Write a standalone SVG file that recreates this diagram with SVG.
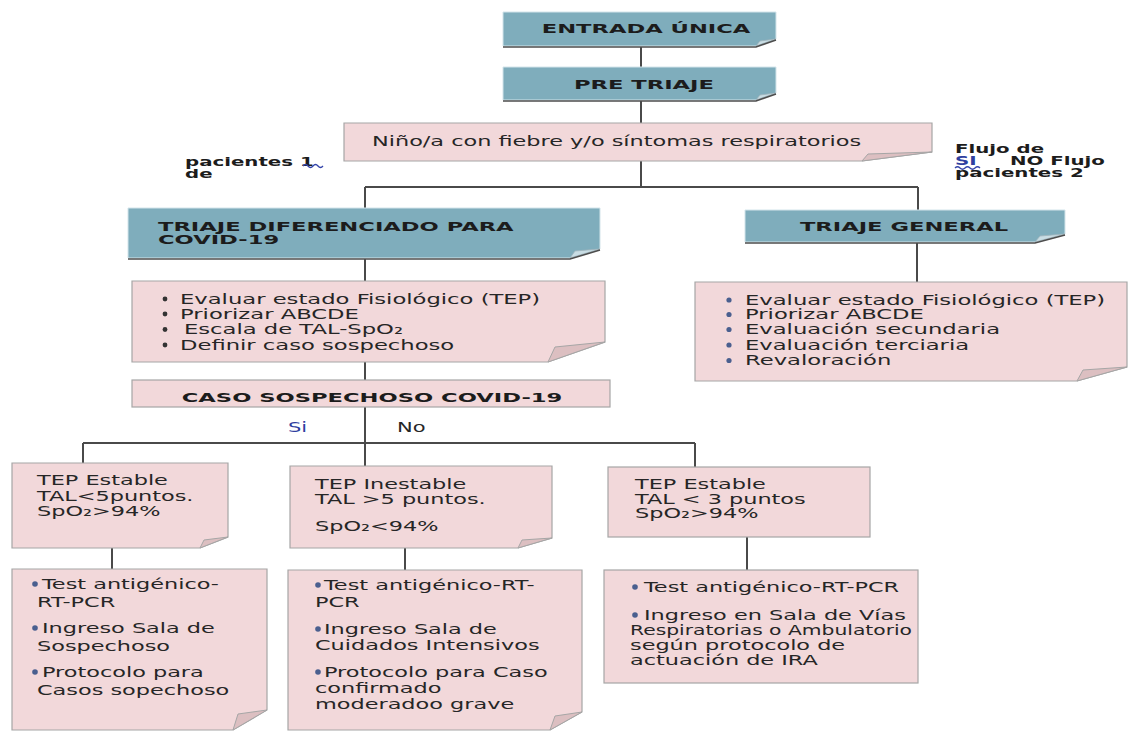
<svg xmlns="http://www.w3.org/2000/svg" width="1128" height="731" viewBox="0 0 1128 731">
<style>
.teal{fill:#7fadbc;stroke:#d3e4ea;stroke-width:1}
.flapT{fill:#c9dde4;stroke:#9fb4bb;stroke-width:0.8}
.shadow{fill:none;stroke:#4d4d4d;stroke-width:1.6}
.pink{fill:#f2d8da;stroke:#a6a6a6;stroke-width:1.2}
.flapP{fill:#dcbfc1;stroke:#a6a6a6;stroke-width:1}
.conn{fill:none;stroke:#4a4a4a;stroke-width:2}
.h{font-family:"DejaVu Sans","Liberation Sans",sans-serif;font-weight:bold;font-size:13px;fill:#1c1c1c}
.lb{font-family:"DejaVu Sans","Liberation Sans",sans-serif;font-weight:bold;font-size:11.5px;fill:#1c1c1c}
.t{font-family:"DejaVu Sans","Liberation Sans",sans-serif;font-size:14px;fill:#262626}
.blue{fill:#2f3f9f}
.bul{fill:#4a5f8f}
.bulD{fill:#333}
.sq{fill:none;stroke:#3344aa;stroke-width:1.3}
</style>

<g id="connectors">
<path class="conn" d="M641,47 V67"/>
<path class="conn" d="M641,101 V123"/>
<path class="conn" d="M641,161 V187"/>
<path class="conn" d="M365,187 H918"/>
<path class="conn" d="M365,187 V208"/>
<path class="conn" d="M918,187 V210"/>
<path class="conn" d="M365,259 V281"/>
<path class="conn" d="M917,243 V282"/>
<path class="conn" d="M365,362 V380"/>
<path class="conn" d="M365,407 V466"/>
<path class="conn" d="M83,443 H695"/>
<path class="conn" d="M83,443 V463"/>
<path class="conn" d="M695,443 V467"/>
<path class="conn" d="M112,548 V569"/>
<path class="conn" d="M405,548 V570"/>
<path class="conn" d="M747,537 V570"/>
</g>

<g id="entrada">
<path class="teal" d="M503,12 H776 V39 L756,46 H503 Z"/>
<path class="flapT" d="M756,46 L776,39 L760,41 Z"/>
<path class="shadow" d="M503,47 H756 L776,40"/>
<text class="h" text-anchor="middle" transform="matrix(1.74 0 0 1 646 33)">ENTRADA ÚNICA</text>
</g>

<g id="pretriaje">
<path class="teal" d="M503,67 H776 V93 L756,100 H503 Z"/>
<path class="flapT" d="M756,100 L776,93 L760,95 Z"/>
<path class="shadow" d="M503,101 H756 L776,94"/>
<text class="h" text-anchor="middle" transform="matrix(1.74 0 0 1 644 89)">PRE TRIAJE</text>
</g>

<g id="nino">
<path class="pink" d="M344,123 H932 V152 L862,161 H344 Z"/>
<path class="flapP" d="M862,161 L932,152 L868,154 Z"/>
<text class="t" transform="matrix(1.6 0 0 1 372 146)">Niño/a con fiebre y/o síntomas respiratorios</text>
</g>

<g id="label-left">
<text class="lb" transform="matrix(1.72 0 0 1 185 166)">pacientes 1</text>
<text class="lb" transform="matrix(1.72 0 0 1 185 178)">de</text>
<path class="sq" d="M303,166 q2.5,-3 5,0 t5,0 t5,0 t5,0"/>
</g>

<g id="label-right">
<text class="lb" transform="matrix(1.72 0 0 1 955 153)">Flujo de</text>
<text class="lb blue" transform="matrix(1.72 0 0 1 955 165)">SI</text>
<text class="lb" transform="matrix(1.72 0 0 1 1010 165)">NO Flujo</text>
<text class="lb" transform="matrix(1.72 0 0 1 955 177)">pacientes 2</text>
<path class="sq" d="M955,168 q2.5,-2.5 5,0 t5,0 t5,0 t5,0 t5,0"/>
</g>

<g id="triaje-dif">
<path class="teal" d="M128,208 H600 V249 L570,258 H128 Z"/>
<path class="flapT" d="M570,258 L600,249 L575,251 Z"/>
<path class="shadow" d="M128,259 H570 L600,250"/>
<text class="h" transform="matrix(1.74 0 0 1 158 231)">TRIAJE DIFERENCIADO PARA</text>
<text class="h" transform="matrix(1.74 0 0 1 158 244)">COVID-19</text>
</g>

<g id="triaje-general">
<path class="teal" d="M745,210 H1065 V234 L1035,242 H745 Z"/>
<path class="flapT" d="M1035,242 L1065,234 L1040,236 Z"/>
<path class="shadow" d="M745,243 H1035 L1065,235"/>
<text class="h" text-anchor="middle" transform="matrix(1.74 0 0 1 904 231)">TRIAJE GENERAL</text>
</g>

<g id="eval-left">
<path class="pink" d="M132,281 H605 V342 L548,362 H132 Z"/>
<path class="flapP" d="M548,362 L605,342 L555,347 Z"/>
<circle class="bulD" cx="165" cy="299" r="2.4"/>
<circle class="bulD" cx="165" cy="314" r="2.4"/>
<circle class="bulD" cx="165" cy="329.5" r="2.4"/>
<circle class="bulD" cx="165" cy="345" r="2.4"/>
<text class="t" transform="matrix(1.62 0 0 1 180 304)">Evaluar estado Fisiológico (TEP)</text>
<text class="t" transform="matrix(1.62 0 0 1 180 319)">Priorizar ABCDE</text>
<text class="t" transform="matrix(1.62 0 0 1 184 334)">Escala de TAL-SpO₂</text>
<text class="t" transform="matrix(1.62 0 0 1 180 349.5)">Definir caso sospechoso</text>
</g>

<g id="eval-right">
<path class="pink" d="M695,282 H1127 V367 L1077,381 H695 Z"/>
<path class="flapP" d="M1077,381 L1127,367 L1083,370 Z"/>
<circle class="bul" cx="729" cy="300" r="2.6"/>
<circle class="bul" cx="729" cy="314.5" r="2.6"/>
<circle class="bul" cx="729" cy="329.5" r="2.6"/>
<circle class="bul" cx="729" cy="345" r="2.6"/>
<circle class="bul" cx="729" cy="360.5" r="2.6"/>
<text class="t" transform="matrix(1.62 0 0 1 745 305)">Evaluar estado Fisiológico (TEP)</text>
<text class="t" transform="matrix(1.62 0 0 1 745 319)">Priorizar ABCDE</text>
<text class="t" transform="matrix(1.62 0 0 1 745 334)">Evaluación secundaria</text>
<text class="t" transform="matrix(1.62 0 0 1 745 349.5)">Evaluación terciaria</text>
<text class="t" transform="matrix(1.62 0 0 1 745 365)">Revaloración</text>
</g>

<g id="caso">
<rect class="pink" x="132" y="380" width="478" height="27"/>
<text class="h" text-anchor="middle" transform="matrix(1.74 0 0 1 372 402)">CASO SOSPECHOSO COVID-19</text>
</g>

<g id="si-no">
<text class="t blue" transform="matrix(1.5 0 0 1 288 432)">Si</text>
<text class="t" transform="matrix(1.5 0 0 1 397 432)">No</text>
</g>

<g id="tep1">
<path class="pink" d="M12,463 H228 V537 L200,548 H12 Z"/>
<path class="flapP" d="M200,548 L228,537 L204,540 Z"/>
<text class="t" transform="matrix(1.6 0 0 1 37 485)"><tspan x="0" y="0">TEP Estable</tspan><tspan x="0" y="16">TAL&lt;5puntos.</tspan><tspan x="0" y="31">SpO₂&gt;94%</tspan></text>
</g>

<g id="tep2">
<path class="pink" d="M290,466 H552 V538 L518,548 H290 Z"/>
<path class="flapP" d="M518,548 L552,538 L522,540 Z"/>
<text class="t" transform="matrix(1.6 0 0 1 315 489)"><tspan x="0" y="0">TEP Inestable</tspan><tspan x="0" y="15">TAL &gt;5 puntos.</tspan><tspan x="0" y="42">SpO₂&lt;94%</tspan></text>
</g>

<g id="tep3">
<rect class="pink" x="608" y="467" width="262" height="70"/>
<text class="t" transform="matrix(1.6 0 0 1 635 489)"><tspan x="0" y="0">TEP Estable</tspan><tspan x="0" y="15">TAL &lt; 3 puntos</tspan><tspan x="0" y="29">SpO₂&gt;94%</tspan></text>
</g>

<g id="accion1">
<path class="pink" d="M12,569 H267 V710 L233,730 H12 Z"/>
<path class="flapP" d="M233,730 L267,710 L238,714 Z"/>
<circle class="bul" cx="35" cy="584" r="2.8"/>
<circle class="bul" cx="35" cy="628" r="2.8"/>
<circle class="bul" cx="35" cy="672" r="2.8"/>
<text class="t" transform="matrix(1.6 0 0 1 42 589)">Test antigénico-</text>
<text class="t" transform="matrix(1.6 0 0 1 37 607)">RT-PCR</text>
<text class="t" transform="matrix(1.6 0 0 1 42 633)">Ingreso Sala de</text>
<text class="t" transform="matrix(1.6 0 0 1 37 651)">Sospechoso</text>
<text class="t" transform="matrix(1.6 0 0 1 42 677)">Protocolo para</text>
<text class="t" transform="matrix(1.6 0 0 1 37 695)">Casos sopechoso</text>
</g>

<g id="accion2">
<path class="pink" d="M288,570 H582 V712 L550,730 H288 Z"/>
<path class="flapP" d="M550,730 L582,712 L555,716 Z"/>
<circle class="bul" cx="318" cy="585" r="2.8"/>
<circle class="bul" cx="318" cy="629" r="2.8"/>
<circle class="bul" cx="318" cy="672" r="2.8"/>
<text class="t" transform="matrix(1.6 0 0 1 324 590)">Test antigénico-RT-</text>
<text class="t" transform="matrix(1.6 0 0 1 315 607)">PCR</text>
<text class="t" transform="matrix(1.6 0 0 1 324 634)">Ingreso Sala de</text>
<text class="t" transform="matrix(1.6 0 0 1 315 650)">Cuidados Intensivos</text>
<text class="t" transform="matrix(1.6 0 0 1 324 677)">Protocolo para Caso</text>
<text class="t" transform="matrix(1.6 0 0 1 315 693)">confirmado</text>
<text class="t" transform="matrix(1.6 0 0 1 315 709)">moderadoo grave</text>
</g>

<g id="accion3">
<rect class="pink" x="604" y="570" width="314" height="113"/>
<circle class="bul" cx="635" cy="587" r="2.8"/>
<circle class="bul" cx="635" cy="615" r="2.8"/>
<text class="t" transform="matrix(1.6 0 0 1 644 592)">Test antigénico-RT-PCR</text>
<text class="t" transform="matrix(1.6 0 0 1 644 620)">Ingreso en Sala de Vías</text>
<text class="t" textLength="282" lengthAdjust="spacingAndGlyphs" x="630" y="635">Respiratorias o Ambulatorio</text>
<text class="t" transform="matrix(1.6 0 0 1 630 650)">según protocolo de</text>
<text class="t" transform="matrix(1.6 0 0 1 630 665)">actuación de IRA</text>
</g>
</svg>
